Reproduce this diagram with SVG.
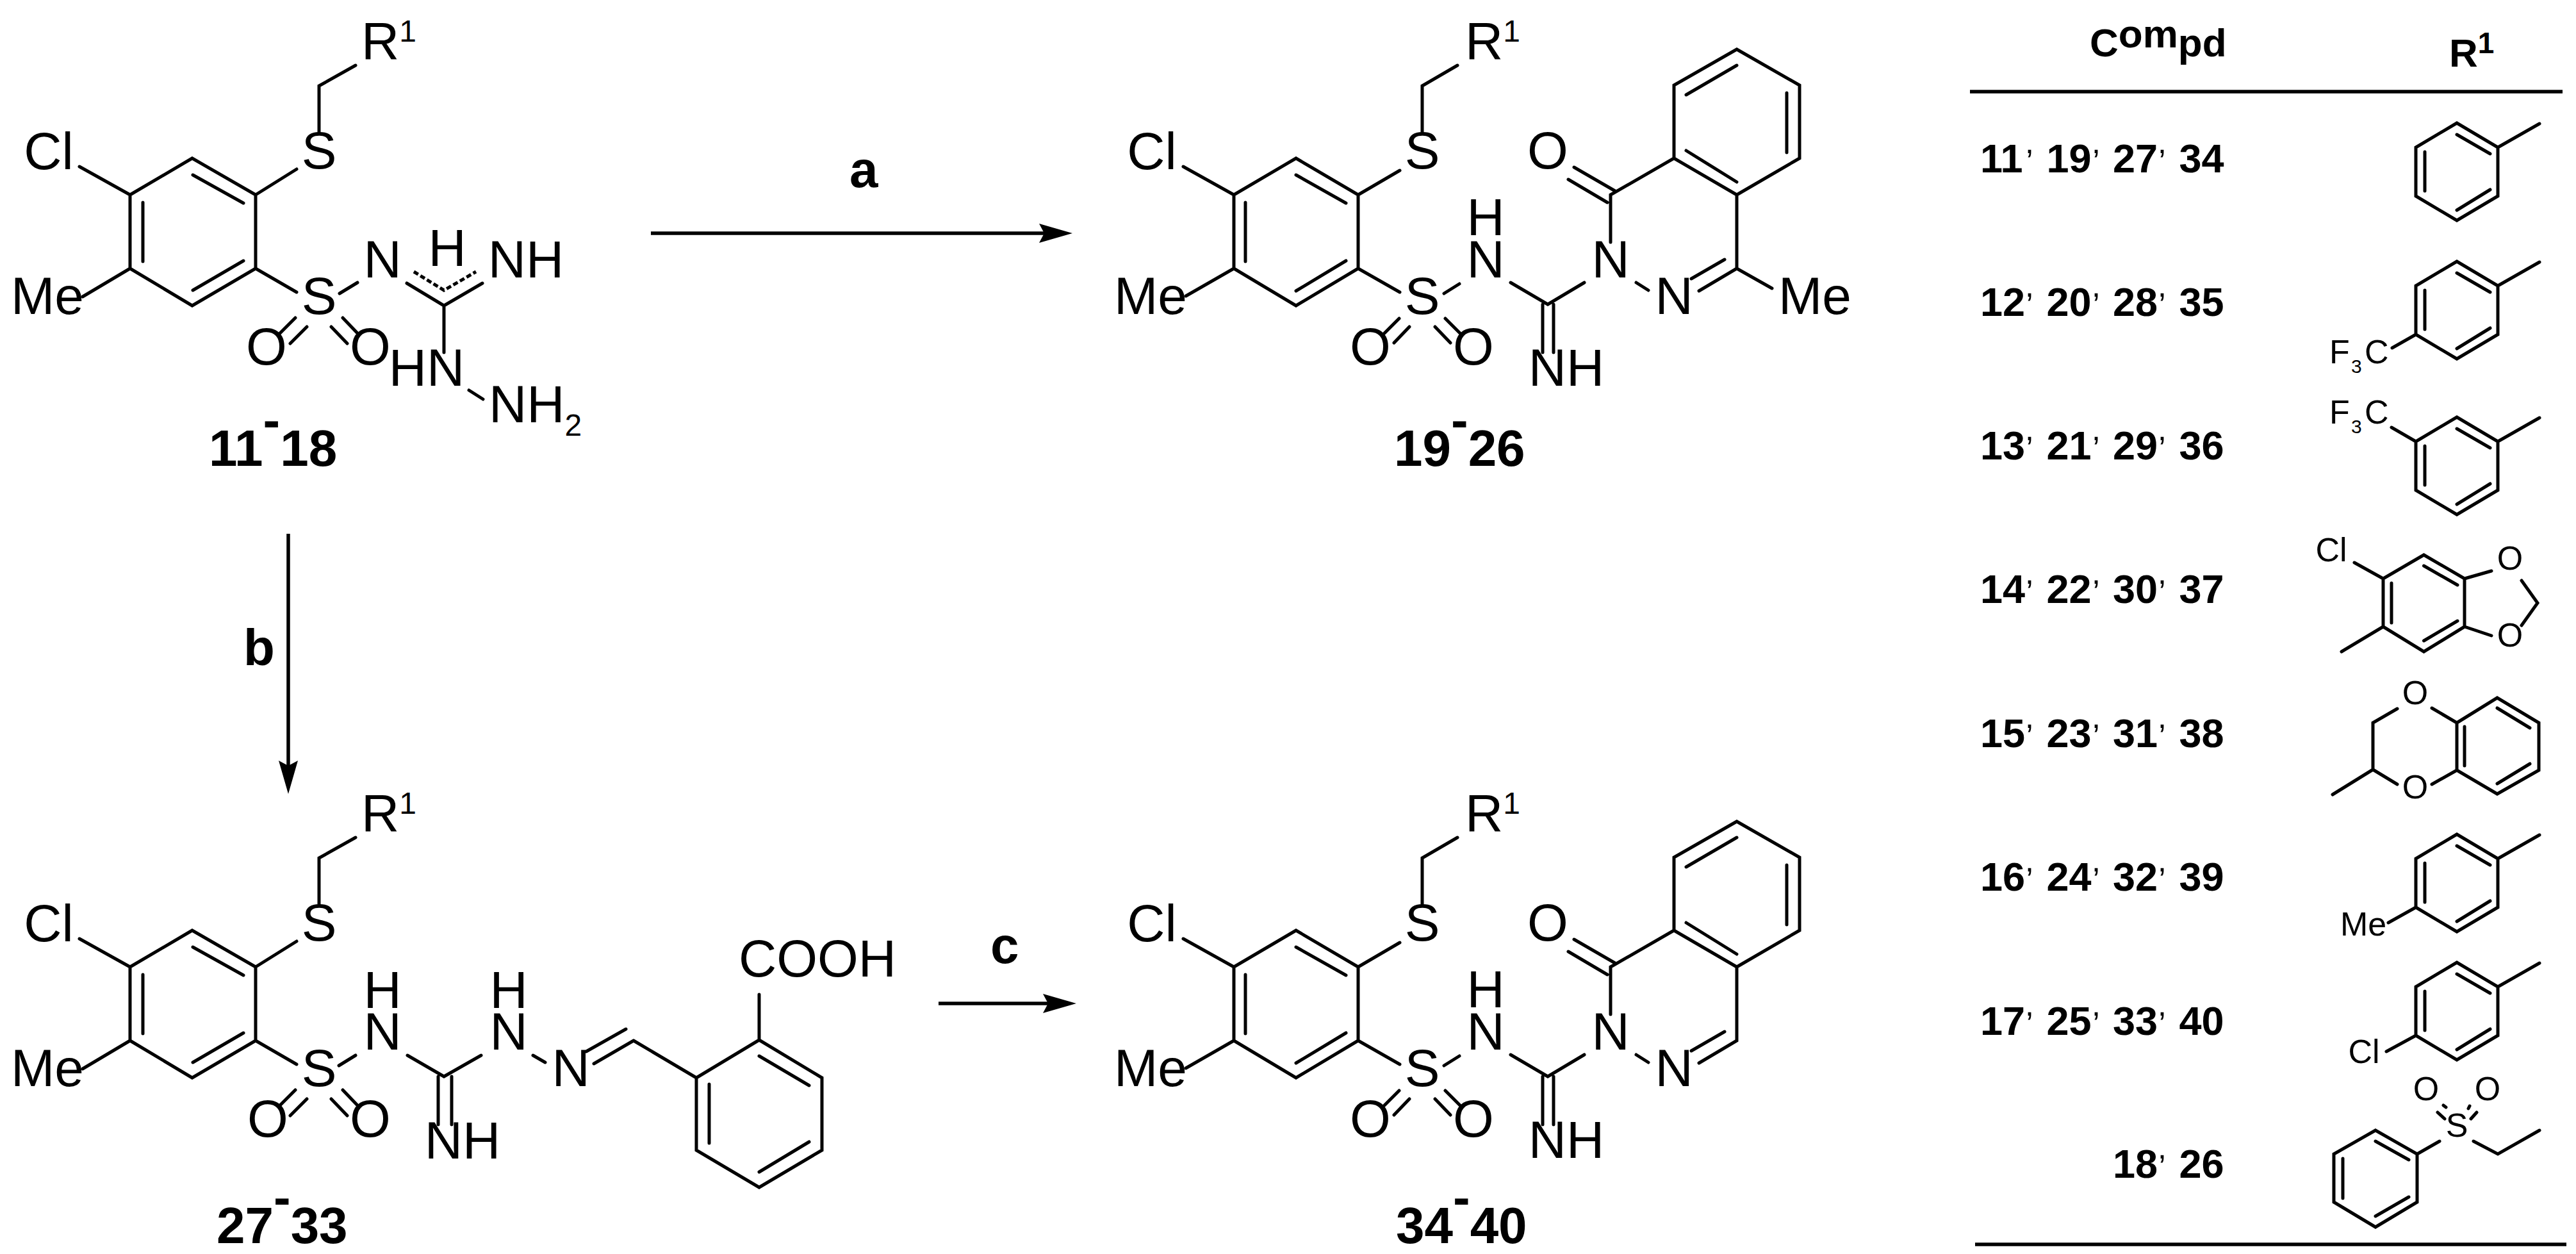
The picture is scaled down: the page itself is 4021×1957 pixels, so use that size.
<svg xmlns="http://www.w3.org/2000/svg" width="4021" height="1957" viewBox="0 0 4021 1957">
<style>
text{font-family:"Liberation Sans",Arial,sans-serif;fill:#000}
.t{font-size:82px}
.m{font-size:82px;text-anchor:middle}
.s{font-size:48px}
.l{font-size:80px;font-weight:700}
.h{font-size:63px;font-weight:700}
.c{font-size:50px;font-weight:400}
.g{font-size:52px}
.gm{font-size:52px;text-anchor:middle}
.b{fill:none;stroke:#000;stroke-width:5;stroke-linecap:round;stroke-linejoin:miter}
.d{stroke-dasharray:8 4;stroke-linecap:butt}
.a{fill:none;stroke:#000;stroke-width:5.5;marker-end:url(#ah)}
.r{fill:none;stroke:#000;stroke-width:5.5}
</style>
<defs>
<marker id="ah" markerUnits="userSpaceOnUse" markerWidth="54" markerHeight="32" refX="10" refY="16" orient="auto" viewBox="0 0 54 32"><path d="M52,16 L0,1 L8,16 L0,31Z" fill="#000"/></marker>
</defs>
<rect width="4021" height="1957" fill="#fff"/>

<g id="connectors">
<path class="a" d="M1016,364H1632"/>
<path class="a" d="M450,833V1197"/>
<path class="a" d="M1465,1566H1638"/>
</g>
<g id="conditions">
<text class="l" x="1326" y="292">a</text>
<text class="l" x="380" y="1038">b</text>
<text class="l" x="1546" y="1503">c</text>
</g>

<g id="compound-11-18">
<path class="b" d="M300,247L399,304V419L300,477L203,419V304ZM301,273L380,317M223,316V408M301,453L380,407M124,260L203,304M203,419L129,463M399,304L463,264M498,206V134L555,102M399,419L463,456M461,496L437,520M479,510L453,536M535,496L558,520M517,510L542,536M530,458L558,441M635,442L693,477L753,442M693,477V550M732,609L754,623"/>
<path class="b d" d="M646,424L693,453L743,424"/>
<text class="m" x="76" y="264">Cl</text>
<text class="m" x="74" y="490">Me</text>
<text class="m" x="498" y="263">S</text>
<text class="t" x="564" y="92">R<tspan class="s" dy="-27">1</tspan></text>
<text class="m" x="498" y="490">S</text>
<text class="m" x="416" y="569">O</text>
<text class="m" x="578" y="569">O</text>
<text class="m" x="597" y="433">N</text>
<text class="m" x="698" y="415">H</text>
<text class="m" x="821" y="433">NH</text>
<text class="m" x="666" y="602">HN</text>
<text class="t" x="763" y="659">NH<tspan class="s" dy="21">2</tspan></text>
<text class="l" x="326" y="727">11<tspan dy="-44">-</tspan><tspan dy="44">18</tspan></text>
</g>

<g id="compound-19-26">
<path class="b" d="M2023,247L2120,304V419L2023,477L1926,419V304ZM2023,273L2101,317M1944,316V408M2023,454L2101,407M1847,260L1926,304M1926,419L1851,462M2120,304L2185,266M2220,206V134L2275,102M2120,419L2185,456M2184,497L2161,520M2200,510L2176,535M2256,497L2279,520M2240,510L2264,535M2254,458L2278,443M2358,441L2416,475L2473,441M2408,475V550M2425,475V550M2514,378V304L2613,247V133L2711,77L2809,133V247L2711,304L2613,247M2457,261L2521,298M2448,280L2509,316M2632,148L2711,102M2789,145V238M2632,235L2711,284M2711,304V419L2652,454M2692,405L2640,435M2554,441L2573,453M2711,419L2766,450"/>
<text class="m" x="1798" y="264">Cl</text>
<text class="m" x="1796" y="490">Me</text>
<text class="m" x="2220" y="263">S</text>
<text class="t" x="2287" y="92">R<tspan class="s" dy="-27">1</tspan></text>
<text class="m" x="2220" y="490">S</text>
<text class="m" x="2139" y="569">O</text>
<text class="m" x="2300" y="569">O</text>
<text class="m" x="2319" y="367">H<tspan x="2319" dy="66">N</tspan></text>
<text class="m" x="2445" y="602">NH</text>
<text class="m" x="2514" y="433">N</text>
<text class="m" x="2613" y="490">N</text>
<text class="m" x="2416" y="263">O</text>
<text class="m" x="2833" y="490">Me</text>
<text class="l" x="2176" y="727">19<tspan dy="-44">-</tspan><tspan dy="44">26</tspan></text>
</g>

<g id="compound-27-33">
<path class="b" d="M300,1452L399,1509V1624L300,1682L203,1624V1509ZM301,1478L380,1522M223,1521V1613M301,1658L380,1612M124,1465L203,1509M203,1624L129,1668M399,1509L463,1469M498,1411V1339L555,1307M399,1624L463,1661M461,1701L437,1725M479,1715L453,1741M535,1701L558,1725M517,1715L542,1741M529,1663L555,1647M636,1647L693,1680L751,1647M684,1680V1755M705,1680V1755M832,1647L851,1658M977,1606L915,1641M989,1624L927,1660M989,1624L1087,1682L1185,1623L1283,1682V1795L1185,1853L1087,1795V1682M1185,1648L1263,1694M1107,1692V1784M1185,1829L1263,1782M1185,1623V1552"/>
<text class="m" x="76" y="1469">Cl</text>
<text class="m" x="74" y="1695">Me</text>
<text class="m" x="498" y="1468">S</text>
<text class="t" x="564" y="1297">R<tspan class="s" dy="-27">1</tspan></text>
<text class="m" x="498" y="1695">S</text>
<text class="m" x="418" y="1774">O</text>
<text class="m" x="578" y="1774">O</text>
<text class="m" x="597" y="1573">H<tspan x="597" dy="65">N</tspan></text>
<text class="m" x="722" y="1808">NH</text>
<text class="m" x="794" y="1573">H<tspan x="794" dy="65">N</tspan></text>
<text class="m" x="891" y="1695">N</text>
<text class="t" x="1153" y="1524">COOH</text>
<text class="l" x="338" y="1940">27<tspan dy="-44">-</tspan><tspan dy="44">33</tspan></text>
</g>

<g id="compound-34-40">
<path class="b" d="M2023,1452L2120,1509V1624L2023,1682L1926,1624V1509ZM2023,1478L2101,1522M1944,1521V1613M2023,1659L2101,1612M1847,1465L1926,1509M1926,1624L1851,1667M2120,1509L2185,1471M2220,1411V1339L2275,1307M2120,1624L2185,1661M2184,1702L2161,1725M2200,1715L2176,1740M2256,1702L2279,1725M2240,1715L2264,1740M2254,1663L2278,1648M2358,1646L2416,1680L2473,1646M2408,1680V1755M2425,1680V1755M2514,1583V1509L2613,1452V1338L2711,1282L2809,1338V1452L2711,1509L2613,1452M2457,1466L2521,1503M2448,1485L2509,1521M2632,1353L2711,1307M2789,1350V1443M2632,1440L2711,1489M2711,1509V1624L2652,1659M2692,1610L2640,1640M2554,1646L2573,1658"/>
<text class="m" x="1798" y="1469">Cl</text>
<text class="m" x="1796" y="1695">Me</text>
<text class="m" x="2220" y="1468">S</text>
<text class="t" x="2287" y="1297">R<tspan class="s" dy="-27">1</tspan></text>
<text class="m" x="2220" y="1695">S</text>
<text class="m" x="2139" y="1774">O</text>
<text class="m" x="2300" y="1774">O</text>
<text class="m" x="2319" y="1572">H<tspan x="2319" dy="66">N</tspan></text>
<text class="m" x="2445" y="1807">NH</text>
<text class="m" x="2514" y="1638">N</text>
<text class="m" x="2613" y="1695">N</text>
<text class="m" x="2416" y="1468">O</text>
<text class="l" x="2179" y="1940">34<tspan dy="-44">-</tspan><tspan dy="44">40</tspan></text>
</g>

<g id="table">
<text class="h" style="font-size:62px" x="3262" y="88">C<tspan dy="-14">om</tspan><tspan dy="14">pd</tspan></text>
<text class="h" style="font-size:62px" x="3823" y="104">R<tspan style="font-size:46px" dy="-21">1</tspan></text>
<path class="r" d="M3075,143H4000"/>
<path class="r" d="M3083,1942H4006"/>
</g>

<g id="row-11">
<text class="h" x="3091" y="269">11<tspan class="c" x="3161" dy="-30">,</tspan><tspan x="3194.5" dy="30">19</tspan><tspan class="c" x="3265" dy="-30">,</tspan><tspan x="3298" dy="30">27</tspan><tspan class="c" x="3368" dy="-30">,</tspan><tspan x="3401.5" dy="30">34</tspan></text>
<path class="b" d="M3835,192L3899,230V306L3835,344L3771,306V230ZM3835,210L3887,240M3785,237V298M3835,328L3887,296M3899,230L3964,193"/>
</g>
<g id="row-12">
<text class="h" x="3091" y="493">12<tspan class="c" x="3161" dy="-30">,</tspan><tspan x="3194.5" dy="30">20</tspan><tspan class="c" x="3265" dy="-30">,</tspan><tspan x="3298" dy="30">28</tspan><tspan class="c" x="3368" dy="-30">,</tspan><tspan x="3401.5" dy="30">35</tspan></text>
<path class="b" d="M3835,408L3899,446V522L3835,560L3771,522V446ZM3835,426L3887,456M3785,453V514M3835,544L3887,512M3899,446L3964,409M3771,522L3734,543"/>
<text class="g" x="3636" y="567">F<tspan style="font-size:30px" x="3670" dy="15">3</tspan><tspan x="3691" dy="-15">C</tspan></text>
</g>
<g id="row-13">
<text class="h" x="3091" y="717">13<tspan class="c" x="3161" dy="-30">,</tspan><tspan x="3194.5" dy="30">21</tspan><tspan class="c" x="3265" dy="-30">,</tspan><tspan x="3298" dy="30">29</tspan><tspan class="c" x="3368" dy="-30">,</tspan><tspan x="3401.5" dy="30">36</tspan></text>
<path class="b" d="M3835,651L3899,689V765L3835,803L3771,765V689ZM3835,669L3887,699M3785,696V757M3835,787L3887,755M3899,689L3964,652M3771,689L3733,667"/>
<text class="g" x="3636" y="661">F<tspan style="font-size:30px" x="3670" dy="15">3</tspan><tspan x="3691" dy="-15">C</tspan></text>
</g>
<g id="row-14">
<text class="h" x="3091" y="941">14<tspan class="c" x="3161" dy="-30">,</tspan><tspan x="3194.5" dy="30">22</tspan><tspan class="c" x="3265" dy="-30">,</tspan><tspan x="3298" dy="30">30</tspan><tspan class="c" x="3368" dy="-30">,</tspan><tspan x="3401.5" dy="30">37</tspan></text>
<path class="b" d="M3783.5,866L3847,903V978L3783.5,1017L3720,978V903ZM3783.5,883L3836,913M3733,910V972M3783.5,1000L3836,969M3675,878L3720,903M3720,978L3655,1017M3847,903L3889,891M3847,978L3889,992M3936,906L3961,941L3936,976"/>
<text class="gm" x="3639" y="876">Cl</text>
<text class="gm" x="3918" y="889">O</text>
<text class="gm" x="3918" y="1009">O</text>
</g>
<g id="row-15">
<text class="h" x="3091" y="1166">15<tspan class="c" x="3161" dy="-30">,</tspan><tspan x="3194.5" dy="30">23</tspan><tspan class="c" x="3265" dy="-30">,</tspan><tspan x="3298" dy="30">31</tspan><tspan class="c" x="3368" dy="-30">,</tspan><tspan x="3401.5" dy="30">38</tspan></text>
<path class="b" d="M3835,1128L3898,1089L3963,1128V1202L3898,1239L3835,1202ZM3898,1105L3949,1136M3847,1134V1195M3898,1223L3949,1192M3796,1105L3835,1128M3796,1224L3835,1202M3742,1106L3704,1128V1201L3742,1224M3704,1201L3641,1240"/>
<text class="gm" x="3770" y="1099">O</text>
<text class="gm" x="3770" y="1246">O</text>
</g>
<g id="row-16">
<text class="h" x="3091" y="1390">16<tspan class="c" x="3161" dy="-30">,</tspan><tspan x="3194.5" dy="30">24</tspan><tspan class="c" x="3265" dy="-30">,</tspan><tspan x="3298" dy="30">32</tspan><tspan class="c" x="3368" dy="-30">,</tspan><tspan x="3401.5" dy="30">39</tspan></text>
<path class="b" d="M3835,1302L3899,1340V1416L3835,1454L3771,1416V1340ZM3835,1320L3887,1350M3785,1347V1408M3835,1438L3887,1406M3899,1340L3964,1303M3771,1416L3728,1440"/>
<text class="gm" x="3689" y="1460">Me</text>
</g>
<g id="row-17">
<text class="h" x="3091" y="1615">17<tspan class="c" x="3161" dy="-30">,</tspan><tspan x="3194.5" dy="30">25</tspan><tspan class="c" x="3265" dy="-30">,</tspan><tspan x="3298" dy="30">33</tspan><tspan class="c" x="3368" dy="-30">,</tspan><tspan x="3401.5" dy="30">40</tspan></text>
<path class="b" d="M3835,1502L3899,1540V1616L3835,1654L3771,1616V1540ZM3835,1520L3887,1550M3785,1547V1608M3835,1638L3887,1606M3899,1540L3964,1503M3771,1616L3725,1641"/>
<text class="gm" x="3690" y="1659">Cl</text>
</g>
<g id="row-18">
<text class="h" x="3298" y="1838">18<tspan class="c" x="3368" dy="-30">,</tspan><tspan x="3401.5" dy="30">26</tspan></text>
<path class="b" d="M3708,1764L3773,1801V1876L3708,1915L3643,1876V1801ZM3708,1781L3760,1810M3657,1808V1870M3708,1898L3760,1868M3773,1801L3808,1781M3861,1781L3899,1801L3964,1764M3814,1725L3818,1728M3805,1736L3816,1746M3855,1726L3853,1730M3866,1736L3857,1746"/>
<text class="gm" x="3835" y="1774">S</text>
<text class="gm" x="3787" y="1717">O</text>
<text class="gm" x="3883" y="1717">O</text>
</g>
</svg>
